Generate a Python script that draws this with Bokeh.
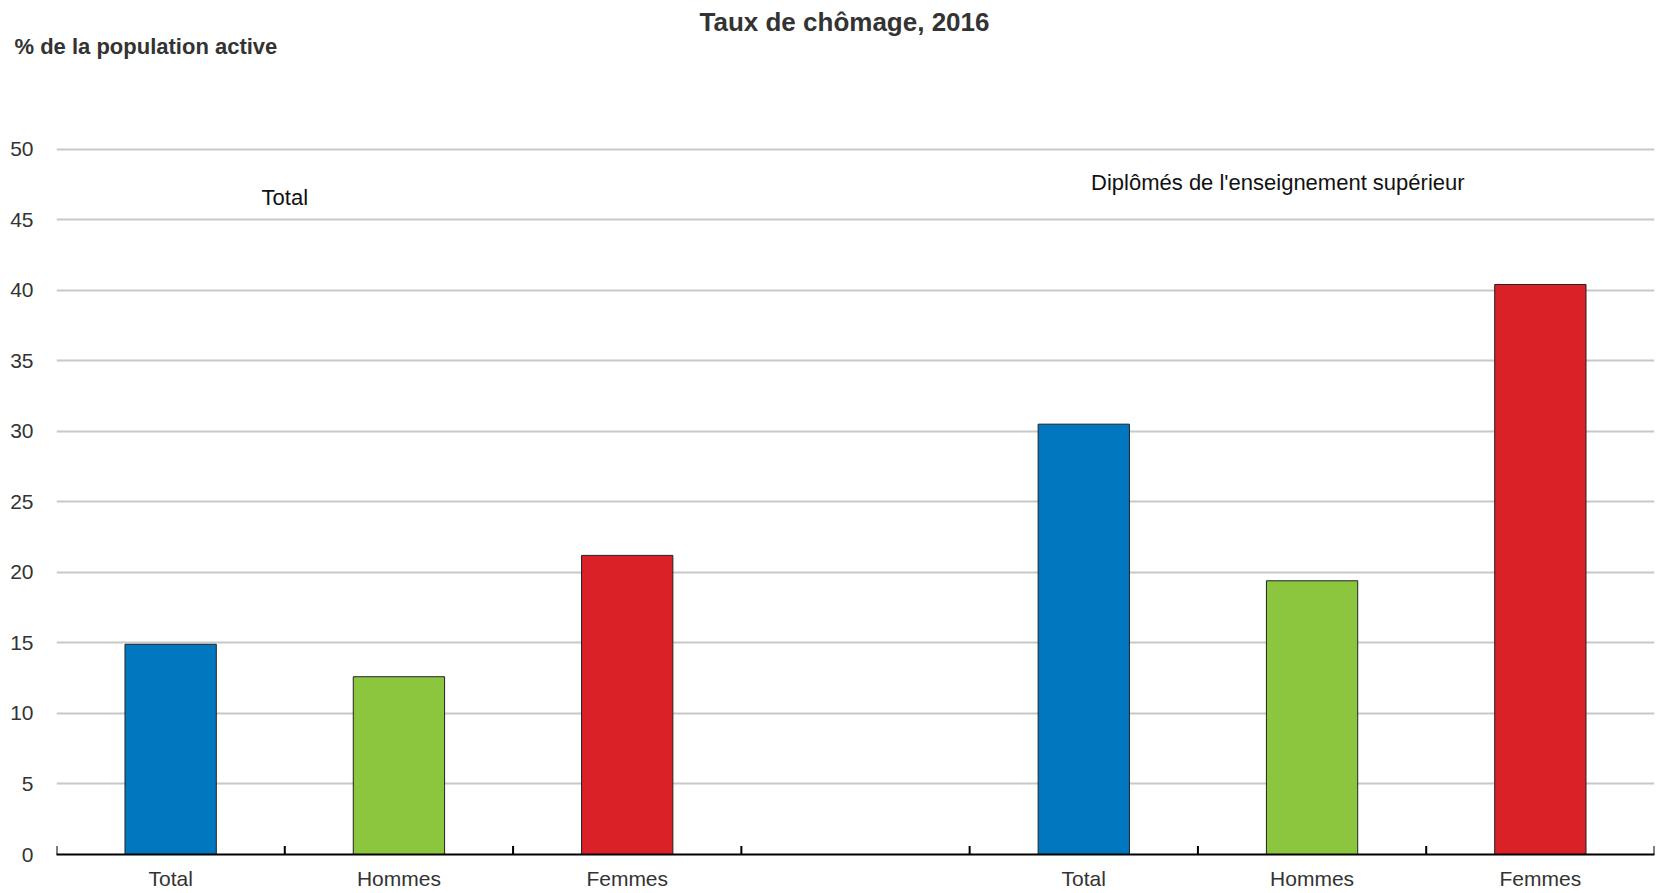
from bokeh.plotting import figure
from bokeh.models import ColumnDataSource, FixedTicker, Label, Range1d, Title
from bokeh.embed import file_html
from bokeh.resources import INLINE

# Data
title_text = "Taux de chômage, 2016"
unit_text = "% de la population active"
groups = ["Total", "Diplômés de l'enseignement supérieur"]
categories = ["Total", "Hommes", "Femmes"]
values_total = [14.9, 12.6, 21.2]
values_dipl = [30.5, 19.4, 40.4]
colors = ["#0077BE", "#8CC63F", "#DA2128"]
y_ticks = [0, 5, 10, 15, 20, 25, 30, 35, 40, 45, 50]

FONT = "Liberation Sans"

# slot layout: 3 bars, one empty slot, 3 bars
n = len(categories)
slots1 = [i + 0.5 for i in range(n)]
slots2 = [n + 1 + i + 0.5 for i in range(n)]
nslots = 2 * n + 1

src = ColumnDataSource(dict(
    x=slots1 + slots2,
    top=values_total + values_dipl,
    color=colors + colors,
))

p = figure(width=1663, height=893, output_backend="svg", toolbar_location=None,
           x_range=Range1d(0, nslots), y_range=Range1d(0, 56.7),
           min_border_left=56, min_border_right=9, min_border_top=54,
           min_border_bottom=39)

# main title (outermost panel)
p.title.text = title_text
p.title.align = "left"
p.title.offset = 643
p.title.standoff = 6
p.title.vertical_align = "bottom"
p.title.text_font = FONT
p.title.text_font_size = "26px"
p.title.text_font_style = "bold"
p.title.text_color = "#333333"

# unit label (panel next to the frame)
unit = Title(text=unit_text, align="left", offset=-42, standoff=-12, vertical_align="top",
             text_font=FONT, text_font_size="22px", text_font_style="bold",
             text_color="#333333")
p.add_layout(unit, "above")

p.ygrid.ticker = FixedTicker(ticks=y_ticks[1:])
p.ygrid.grid_line_color = "#C8C8C8"
p.ygrid.grid_line_width = 2
p.xgrid.grid_line_color = None

p.vbar(x="x", top="top", width=0.4, bottom=0, source=src, fill_color="color",
       line_color="#222222", line_width=1)

# boundary tick marks on the x axis
bounds = list(range(nslots + 1))
p.segment(x0=bounds, x1=bounds, y0=[0] * len(bounds), y1=[0.6] * len(bounds),
          line_color="#000000", line_width=2)

# axes
p.xaxis.ticker = FixedTicker(ticks=slots1 + slots2)
p.xaxis.major_label_overrides = {s: c for s, c in zip(slots1 + slots2, categories + categories)}
p.xaxis.major_tick_in = 0
p.xaxis.major_tick_out = 0
p.xaxis.minor_tick_line_color = None
p.xaxis.axis_line_color = "#000000"
p.xaxis.axis_line_width = 2
p.xaxis.major_label_text_font = FONT
p.xaxis.major_label_text_font_size = "21px"
p.xaxis.major_label_text_color = "#333333"
p.xaxis.major_label_standoff = 12

p.yaxis.ticker = FixedTicker(ticks=y_ticks)
p.yaxis.axis_line_color = None
p.yaxis.major_tick_line_color = None
p.yaxis.minor_tick_line_color = None
p.yaxis.major_tick_out = 0
p.yaxis.major_tick_in = 0
p.yaxis.major_label_standoff = 23
p.yaxis.major_label_text_font = FONT
p.yaxis.major_label_text_font_size = "21px"
p.yaxis.major_label_text_color = "#333333"

p.outline_line_color = None

# group labels
p.add_layout(Label(x=1.0, y=46.56, text=groups[0], text_align="center",
                   text_baseline="middle", text_font=FONT, text_font_size="22px",
                   text_color="#111111"))
p.add_layout(Label(x=5.35, y=47.6, text=groups[1], text_align="center",
                   text_baseline="middle", text_font=FONT, text_font_size="22px",
                   text_color="#111111"))

open("out.html", "w").write(file_html(p, INLINE))
